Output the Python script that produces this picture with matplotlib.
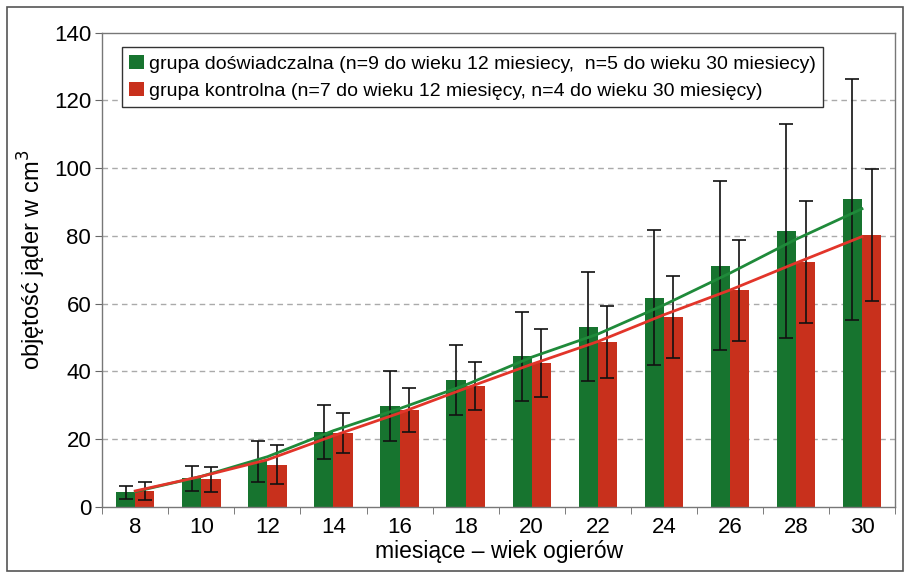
import matplotlib
matplotlib.use("Agg")
import matplotlib.pyplot as plt
import numpy as np
from matplotlib.patches import Rectangle

plt.rcParams['font.family'] = ['Liberation Sans', 'DejaVu Sans']

months = ["8", "10", "12", "14", "16", "18", "20", "22", "24", "26", "28", "30"]
green_vals = [4.3, 8.4, 13.4, 22.2, 29.7, 37.5, 44.4, 53.2, 61.8, 71.2, 81.4, 90.8]
green_err = [2.0, 3.8, 6.0, 8.0, 10.3, 10.3, 13.0, 16.0, 20.0, 25.0, 31.5, 35.5]
red_vals = [4.6, 8.1, 12.4, 21.8, 28.6, 35.7, 42.4, 48.6, 56.1, 64.0, 72.3, 80.3]
red_err = [2.6, 3.8, 5.8, 6.0, 6.6, 7.0, 10.0, 10.7, 12.1, 14.9, 17.9, 19.6]
green_trend = [4.5, 9.0, 14.8, 22.5, 29.0, 36.0, 44.2, 51.0, 59.6, 69.0, 79.0, 88.0]
red_trend = [4.7, 9.0, 13.9, 21.0, 27.7, 35.0, 42.1, 48.8, 56.7, 64.0, 72.0, 79.8]

label_green = "grupa doświadczalna (n=9 do wieku 12 miesiecy,  n=5 do wieku 30 miesiecy)"
label_red = "grupa kontrolna (n=7 do wieku 12 miesięcy, n=4 do wieku 30 miesięcy)"

GREEN = "#17742f"
RED = "#c8301c"

fig = plt.figure(figsize=(9.05, 5.74), dpi=100)
ax = fig.add_axes([0.113, 0.117, 0.876, 0.826])

x = np.arange(len(months))
w = 0.29
ax.bar(x - w / 2, green_vals, w, color=GREEN, zorder=2, label=label_green)
ax.bar(x + w / 2, red_vals, w, color=RED, zorder=2, label=label_red)
ax.errorbar(x - w / 2, green_vals, yerr=green_err, fmt='none', ecolor='#111111',
            elinewidth=1.2, capsize=5, capthick=1.2, zorder=3)
ax.errorbar(x + w / 2, red_vals, yerr=red_err, fmt='none', ecolor='#111111',
            elinewidth=1.2, capsize=5, capthick=1.2, zorder=3)
ax.plot(x, green_trend, color="#1f8a3a", lw=2, zorder=4)
ax.plot(x, red_trend, color="#e2352a", lw=2, zorder=4)

ax.set_xlim(-0.5, len(months) - 0.5)
ax.set_ylim(0, 140)
ax.set_yticks(np.arange(0, 141, 20))
ax.set_xticks(x)
ax.set_xticklabels(months)
ax.set_xticks(np.arange(-0.5, len(months), 1), minor=True)
ax.tick_params(axis='x', which='major', length=0, labelsize=16, pad=7)
ax.tick_params(axis='x', which='minor', length=5, color='#666666', direction='out')
ax.tick_params(axis='y', which='major', length=5, color='#666666', labelsize=16, pad=3)

for v in range(20, 140, 20):
    ax.axhline(v, color='#aaaaaa', lw=1, ls=(0, (4, 3)), zorder=1)

for s in ax.spines.values():
    s.set_color('#777777')
    s.set_linewidth(1)

ax.set_xlabel("miesiące – wiek ogierów", fontsize=16.5, labelpad=2)
ax.set_ylabel("objętość jąder w cm$^3$", fontsize=17, labelpad=0)
ax.yaxis.set_label_coords(-0.068, 0.52)

leg = ax.legend(loc='upper left', bbox_to_anchor=(0.012, 0.99), fontsize=14,
                frameon=True, fancybox=False, edgecolor='#333333',
                handlelength=0.75, handleheight=0.75, handletextpad=0.25,
                labelspacing=0.45, borderpad=0.4, framealpha=1)
leg.get_frame().set_linewidth(1)

# outer chart border
fig.patches.append(Rectangle((0.008, 0.006), 0.99, 0.982, transform=fig.transFigure,
                             fill=False, edgecolor='#555555', lw=1.2))

fig.savefig("out.png", dpi=100)
